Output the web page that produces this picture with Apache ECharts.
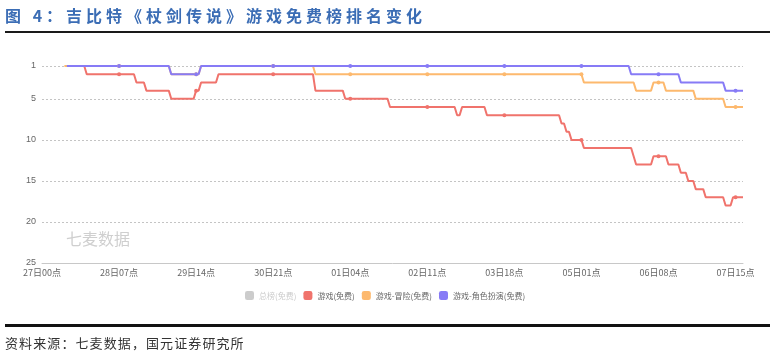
<!DOCTYPE html>
<html>
<head>
<meta charset="utf-8">
<script src="https://cdn.jsdelivr.net/npm/echarts@6/dist/echarts.min.js"></script>
<style>
  html, body { margin: 0; padding: 0; background: #fff; }
  #wrap { position: relative; width: 776px; height: 356px; overflow: hidden; }
  #chart { position: absolute; left: 0; top: 0; width: 776px; height: 356px; }
  .ov { position: absolute; z-index: 2; white-space: nowrap; }
  #title { left: 5px; top: 4px; font-family: "Noto Sans CJK SC", sans-serif; font-weight: bold; font-size: 16px; line-height: 22px; color: #3b6db5; letter-spacing: 4px; }
  #rule1 { left: 5px; top: 31px; width: 765px; height: 2px; background: #1a1a1a; }
  #rule2 { left: 5px; top: 324px; width: 765px; height: 3px; background: #111; }
  #source { left: 5px; top: 334px; font-family: "Noto Sans CJK SC", sans-serif; font-size: 13px; line-height: 18px; color: #333; letter-spacing: 1.1px; }
</style>
</head>
<body>
<div id="wrap">
  <div id="chart"></div>
  <div id="title" class="ov">图 4：吉比特《杖剑传说》游戏免费榜排名变化</div>
  <div id="rule1" class="ov"></div>
  <div id="rule2" class="ov"></div>
  <div id="source" class="ov">资料来源：七麦数据，国元证券研究所</div>
</div>
<script>
// Category days and hours (hourly timeline from 27日00点 to 07日18点)
var days = ['27', '28', '29', '30', '31', '01', '02', '03', '04', '05', '06', '07'];
var lastDayHours = 19; // 07日00点 .. 07日18点
var seriesNames = ['总榜(免费)', '游戏(免费)', '游戏-冒险(免费)', '游戏-角色扮演(免费)'];
var yTicks = [1, 5, 10, 15, 20, 25];

// Hourly rank values, rows of 10 hours
var rankGame = [
  null,null,null,null,null,null,null,null,null,null,
  1,1,1,1,1,1,1,1,2,2,
  2,2,2,2,2,2,2,2,2,2,
  2,2,2,2,2,2,2,2,3,3,
  3,3,4,4,4,4,4,4,4,4,
  4,4,5,5,5,5,5,5,5,5,
  5,5,4,4,3,3,3,3,3,3,
  3,2,2,2,2,2,2,2,2,2,
  2,2,2,2,2,2,2,2,2,2,
  2,2,2,2,2,2,2,2,2,2,
  2,2,2,2,2,2,2,2,2,2,
  4,4,4,4,4,4,4,4,4,4,
  4,4,5,5,5,5,5,5,5,5,
  5,5,5,5,5,5,5,5,5,5,
  6,6,6,6,6,6,6,6,6,6,
  6,6,6,6,6,6,6,6,6,6,
  6,6,6,6,6,6,6,7,7,6,
  6,6,6,6,6,6,6,6,6,7,
  7,7,7,7,7,7,7,7,7,7,
  7,7,7,7,7,7,7,7,7,7,
  7,7,7,7,7,7,7,7,7,8,
  8,9,9,10,10,10,10,10,11,11,
  11,11,11,11,11,11,11,11,11,11,
  11,11,11,11,11,11,11,11,12,13,
  13,13,13,13,13,13,12,12,12,12,
  12,12,13,13,13,13,13,14,14,14,
  15,15,15,16,16,16,16,17,17,17,
  17,17,17,17,17,18,18,18,17,17,
  17,17,17
];
var rankAdventure = [
  null,null,null,null,null,null,null,null,null,1,
  1,1,1,1,1,1,1,1,1,1,
  1,1,1,1,1,1,1,1,1,1,
  1,1,1,1,1,1,1,1,1,1,
  1,1,1,1,1,1,1,1,1,1,
  1,1,2,2,2,2,2,2,2,2,
  2,2,2,2,1,1,1,1,1,1,
  1,1,1,1,1,1,1,1,1,1,
  1,1,1,1,1,1,1,1,1,1,
  1,1,1,1,1,1,1,1,1,1,
  1,1,1,1,1,1,1,1,1,1,
  2,2,2,2,2,2,2,2,2,2,
  2,2,2,2,2,2,2,2,2,2,
  2,2,2,2,2,2,2,2,2,2,
  2,2,2,2,2,2,2,2,2,2,
  2,2,2,2,2,2,2,2,2,2,
  2,2,2,2,2,2,2,2,2,2,
  2,2,2,2,2,2,2,2,2,2,
  2,2,2,2,2,2,2,2,2,2,
  2,2,2,2,2,2,2,2,2,2,
  2,2,2,2,2,2,2,2,2,2,
  2,2,2,2,2,2,2,2,3,3,
  3,3,3,3,3,3,3,3,3,3,
  3,3,3,3,3,3,3,3,3,4,
  4,4,4,4,4,4,3,3,3,3,
  3,4,4,4,4,4,4,4,4,4,
  4,4,4,5,5,5,5,5,5,5,
  5,5,5,5,5,6,6,6,6,6,
  6,6,6
];
var rankRolePlay = [
  null,null,null,null,null,null,null,null,null,null,
  1,1,1,1,1,1,1,1,1,1,
  1,1,1,1,1,1,1,1,1,1,
  1,1,1,1,1,1,1,1,1,1,
  1,1,1,1,1,1,1,1,1,1,
  1,1,2,2,2,2,2,2,2,2,
  2,2,2,2,1,1,1,1,1,1,
  1,1,1,1,1,1,1,1,1,1,
  1,1,1,1,1,1,1,1,1,1,
  1,1,1,1,1,1,1,1,1,1,
  1,1,1,1,1,1,1,1,1,1,
  1,1,1,1,1,1,1,1,1,1,
  1,1,1,1,1,1,1,1,1,1,
  1,1,1,1,1,1,1,1,1,1,
  1,1,1,1,1,1,1,1,1,1,
  1,1,1,1,1,1,1,1,1,1,
  1,1,1,1,1,1,1,1,1,1,
  1,1,1,1,1,1,1,1,1,1,
  1,1,1,1,1,1,1,1,1,1,
  1,1,1,1,1,1,1,1,1,1,
  1,1,1,1,1,1,1,1,1,1,
  1,1,1,1,1,1,1,1,1,1,
  1,1,1,1,1,1,1,1,1,1,
  1,1,1,1,1,1,1,2,2,2,
  2,2,2,2,2,2,2,2,2,2,
  2,2,2,2,2,2,2,3,3,3,
  3,3,3,3,3,3,3,3,3,3,
  3,3,3,3,3,4,4,4,4,4,
  4,4,4
];
var rankOverall = [];

var categories = [];
days.forEach(function (d, i) {
  var n = (i === days.length - 1) ? lastDayHours : 24;
  for (var h = 0; h < n; h++) {
    categories.push(d + '日' + (h < 10 ? '0' + h : '' + h) + '点');
  }
});

var colors = ['#cccccc', '#f0736c', '#fdb96e', '#877bf6'];

var chart = echarts.init(document.getElementById('chart'), null, { renderer: 'canvas' });
function lineSeries(name, data, color) {
  return {
    name: name, type: 'line', data: data,
    symbol: 'circle', symbolSize: 4,
    showSymbol: true,
    itemStyle: { color: color },
    lineStyle: { color: color, width: 2 },
    connectNulls: false
  };
}
chart.setOption({
  animation: false,
  color: colors,
  grid: { left: 42, right: 33, top: 66, bottom: 93, containLabel: false },
  graphic: [{
    type: 'text', left: 66, top: 231,
    style: { text: '七麦数据', fontSize: 16, fill: '#cfcfcf', fontFamily: 'Noto Sans CJK SC' }
  }],
  legend: {
    left: 245, top: 291, padding: 0,
    itemWidth: 9, itemHeight: 9, itemGap: 7, icon: 'roundRect',
    textStyle: { fontSize: 8, color: '#666', fontFamily: 'Noto Sans CJK SC' },
    inactiveColor: '#cccccc',
    selected: { '总榜(免费)': false },
    data: seriesNames
  },
  xAxis: {
    type: 'category', boundaryGap: false, data: categories,
    axisLine: { lineStyle: { color: '#c8c8c8', width: 1 } },
    axisTick: { show: false },
    axisLabel: { interval: 30, color: '#666', fontSize: 9, margin: 5, fontFamily: 'Noto Sans CJK SC' },
    splitLine: { show: false }
  },
  yAxis: {
    type: 'value', inverse: true, min: yTicks[0], max: yTicks[yTicks.length - 1], splitNumber: 5,
    axisLine: { show: false }, axisTick: { show: false },
    axisLabel: { color: '#666', fontSize: 9, margin: 6 },
    splitLine: { lineStyle: { color: '#c4c4c4', type: [2, 2], width: 1 } }
  },
  series: [
    lineSeries(seriesNames[0], rankOverall, colors[0]),
    lineSeries(seriesNames[1], rankGame, colors[1]),
    lineSeries(seriesNames[2], rankAdventure, colors[2]),
    lineSeries(seriesNames[3], rankRolePlay, colors[3])
  ]
});
</script>
</body>
</html>
